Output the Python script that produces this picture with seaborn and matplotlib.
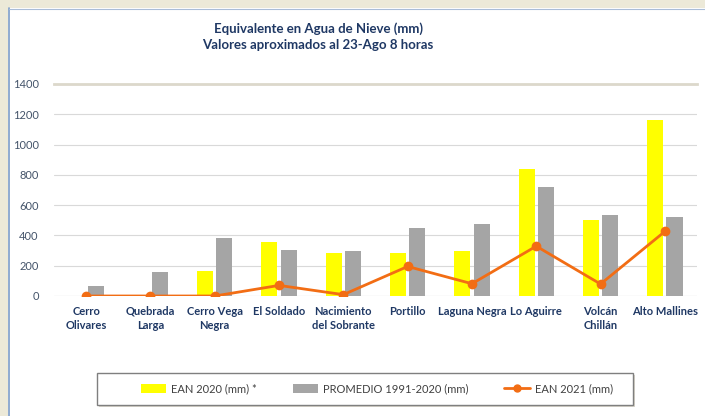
import matplotlib
matplotlib.use("Agg")
import matplotlib.pyplot as plt
import pandas as pd
import seaborn as sns
from matplotlib.lines import Line2D
from matplotlib.patches import Patch, Rectangle

stations = ["Cerro\nOlivares", "Quebrada\nLarga", "Cerro Vega\nNegra", "El Soldado",
            "Nacimiento\ndel Sobrante", "Portillo", "Laguna Negra", "Lo Aguirre",
            "Volcán\nChillán", "Alto Mallines"]
ean_2020 = [0, 0, 165, 354, 283, 281, 300, 838, 505, 1165]
promedio = [66, 158, 380, 301, 297, 452, 478, 722, 535, 524]
ean_2021 = [0, 0, 0, 70, 9, 195, 81, 329, 79, 426]

lbl_2020 = "EAN 2020 (mm) *"
lbl_prom = "PROMEDIO 1991-2020 (mm)"
lbl_2021 = "EAN 2021 (mm)"

YELLOW = "#FFFF00"
GRAY = "#A5A5A5"
ORANGE = "#F26D14"
NAVY = "#1F3864"

df = pd.DataFrame({
    "station": stations * 2,
    "value": ean_2020 + promedio,
    "serie": [lbl_2020] * len(stations) + [lbl_prom] * len(stations),
})

sns.set_theme(style="white")
plt.rcParams["font.family"] = ["Lato", "DejaVu Sans"]

W, H = 705, 416
fig = plt.figure(figsize=(W / 100, H / 100), dpi=100)
fig.patch.set_facecolor("white")
# beige window frame around the white panel
fig.patches.append(Rectangle((0, 1 - 8 / H), 1, 8 / H, transform=fig.transFigure,
                             facecolor="#ECE9D8", edgecolor="none", zorder=-5))
fig.patches.append(Rectangle((0, 0), 8 / W, 1, transform=fig.transFigure,
                             facecolor="#ECE9D8", edgecolor="none", zorder=-5))
fig.add_artist(Line2D([8.5 / W, 8.5 / W], [0, 1 - 8 / H], transform=fig.transFigure,
                      color="#7C9CC8", lw=1.2))
fig.add_artist(Line2D([8.5 / W, 1], [1 - 8.5 / H, 1 - 8.5 / H], transform=fig.transFigure,
                      color="#A9BCD8", lw=0.8))

ax = fig.add_axes([54 / W, 1 - 296 / H, 643 / W, 212 / H])

sns.barplot(data=df, x="station", y="value", hue="serie",
            palette={lbl_2020: YELLOW, lbl_prom: GRAY},
            width=0.6, gap=0.17, saturation=1, linewidth=0,
            legend=False, ax=ax, zorder=2)
sns.pointplot(x=stations, y=ean_2021, color=ORANGE, markers="o",
              markersize=5.5, linewidth=2, ax=ax, zorder=4)

ax.set_xlim(-0.5, 9.5)
ax.set_ylim(0, 1400)
ax.set_yticks(range(0, 1401, 200))
ax.yaxis.grid(True, color="#D9D9D9", lw=0.8)
ax.set_axisbelow(True)
ax.set_xlabel("")
ax.set_ylabel("")
for s in ["left", "right", "bottom"]:
    ax.spines[s].set_visible(False)
ax.spines["top"].set_color("#DCD8CB")
ax.spines["top"].set_linewidth(2)
ax.axhline(0, color="#D9D9D9", lw=0.8, zorder=1)

ax.tick_params(axis="y", length=0, pad=11, labelsize=8, labelcolor="#44546A")
ax.tick_params(axis="x", length=0, pad=7, labelsize=8, labelcolor=NAVY)
for t in ax.get_xticklabels():
    t.set_fontweight("bold")
    t.set_linespacing(1.4)

fig.text(318 / W, 1 - 37 / H,
         "Equivalente en Agua de Nieve (mm)\nValores aproximados al 23-Ago 8 horas",
         ha="center", va="center", fontsize=9.5, fontweight="bold", color=NAVY,
         linespacing=1.4)

# legend box with a soft shadow
fig.patches.append(Rectangle((99 / W, 1 - 407 / H), 536 / W, 32 / H, transform=fig.transFigure,
                             facecolor="#D9D6CC", edgecolor="none", zorder=1))
fig.patches.append(Rectangle((97 / W, 1 - 405 / H), 536 / W, 32 / H, transform=fig.transFigure,
                             facecolor="white", edgecolor="#7F7F7F", lw=1.0, zorder=2))

handles = [
    Patch(facecolor=YELLOW, edgecolor="none"),
    Patch(facecolor=GRAY, edgecolor="none"),
    Line2D([0], [0], color=ORANGE, lw=2, marker="o", markersize=5),
]
leg = fig.legend(handles, [lbl_2020, lbl_prom, lbl_2021], ncol=3,
                 loc="center", bbox_to_anchor=(377 / W, 1 - 389 / H),
                 frameon=False, fontsize=8, handlelength=2.3, handleheight=0.9,
                 handletextpad=0.45, columnspacing=3.2, borderpad=0,
                 labelcolor="#404040")
leg.set_zorder(3)

fig.savefig("out.png", dpi=100, facecolor=fig.get_facecolor())
